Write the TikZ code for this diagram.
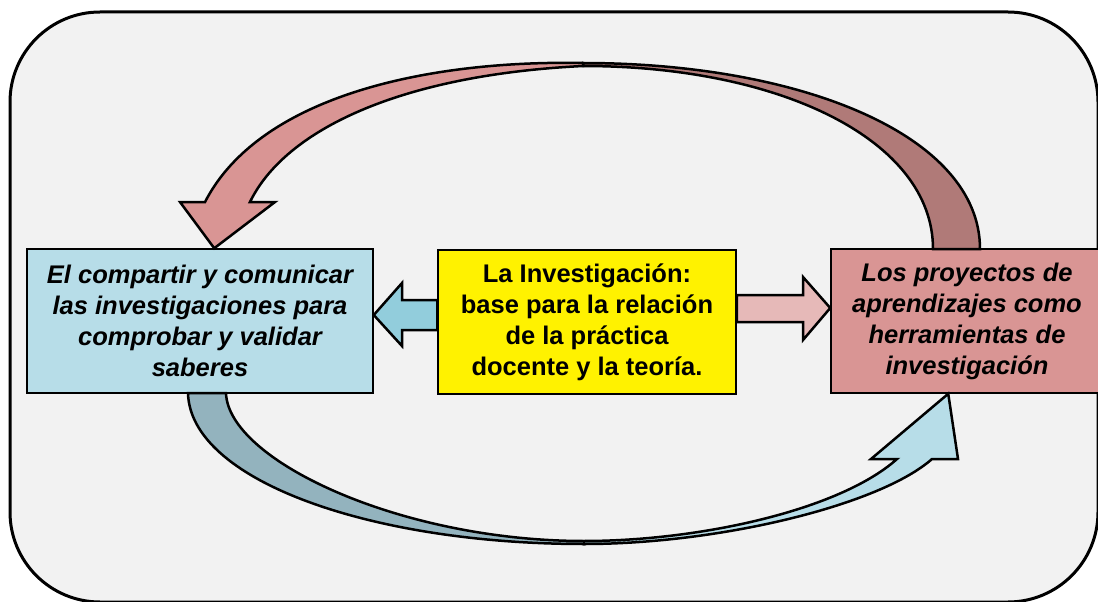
\documentclass[tikz,border=0pt]{standalone}
\usepackage{fontspec}
\setmainfont{Liberation Sans}
\usetikzlibrary{calc}
\definecolor{panelgray}{HTML}{F2F2F2}
\definecolor{celeste}{HTML}{B7DDE8}
\definecolor{rosa}{HTML}{D99594}
\definecolor{rosaoscuro}{HTML}{B07A78}
\definecolor{rosaclaro}{HTML}{E6B9B8}
\definecolor{azul}{HTML}{92CDDC}
\definecolor{azulgris}{HTML}{93B3BE}
\begin{document}
\begin{tikzpicture}[x=1pt, y=-1pt,
  box/.style={draw=black, line width=1.5pt, minimum height=144pt, align=center,
    font=\fontsize{25.5}{31}\selectfont\bfseries},
  blockarrow/.style={draw=black, line width=2.5pt},
  curvearrow/.style={draw=black, line width=2.5pt}]
\useasboundingbox (0,0) rectangle (1098,602);
\draw[line width=3pt, rounded corners=90pt, fill=panelgray] (10,12) rectangle (1098,602);
% the three boxes
\node[box, fill=celeste, minimum width=346pt] (lft) at (200,321) {\itshape El compartir y comunicar\\ \itshape las investigaciones para\\ \itshape comprobar y validar\\ \itshape saberes};
\node[box, fill=yellow, minimum width=298pt] (mid) at (587,322) {La Investigación:\\ base para la relación\\ de la práctica\\ docente y la teoría.};
\node[box, fill=rosa, minimum width=272pt] (rgt) at (967,321) {\itshape Los proyectos de\\ \itshape aprendizajes como\\ \itshape herramientas de\\ \itshape investigación};
% straight arrows
\filldraw[blockarrow, fill=azul] (mid.west |- 0,300) -- (402,300) -- (402,283) -- (lft.east |- 0,315) -- (402,346) -- (402,330) -- (mid.west |- 0,330) -- cycle;
\filldraw[blockarrow, fill=rosaclaro] (mid.east |- 0,295) -- (803,295) -- (803,277) -- (rgt.west |- 0,308) -- (803,340) -- (803,322) -- (mid.east |- 0,322) -- cycle;
% curved arrows
\coordinate (tipA) at ($(lft.north west)+(188,0)$);
\coordinate (tipB) at ($(rgt.south west)+(118,0)$);
\filldraw[curvearrow, fill=rosaoscuro] (583,63) .. controls (800,63) and (980,135) .. (980,249) -- (933,249) .. controls (933,140) and (780,66) .. (583,66) -- cycle;
\filldraw[curvearrow, fill=rosa] (583,63) .. controls (430,60) and (260,95) .. (205,202) -- (180,202) -- (tipA) -- (275,202) -- (250,202) .. controls (285,130) and (400,75) .. (583,66) -- cycle;
\filldraw[curvearrow, fill=azulgris] (188,393) .. controls (190,480) and (370,544) .. (584,544) -- (584,541) .. controls (400,541) and (228,460) .. (226,393) -- cycle;
\filldraw[curvearrow, fill=celeste] (584,544) .. controls (720,544) and (880,505) .. (932,459) -- (958,459) -- (tipB) -- (871,459) -- (897,459) .. controls (840,510) and (700,541) .. (584,541) -- cycle;
\end{tikzpicture}
\end{document}
